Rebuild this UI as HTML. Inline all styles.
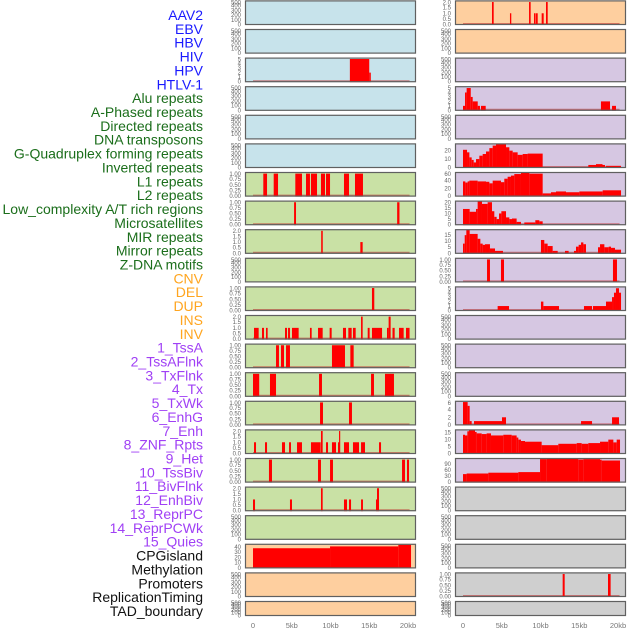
<!DOCTYPE html>
<html><head><meta charset="utf-8">
<style>
html,body{margin:0;padding:0;background:#fff;}
svg{display:block;font-family:"Liberation Sans",sans-serif;}
</style></head>
<body>
<svg id="chart" width="630" height="630" viewBox="0 0 630 630"></svg>
<script>
// ---------- data ----------
const trackLabels = ["AAV2","EBV","HBV","HIV","HPV","HTLV-1","Alu repeats","A-Phased repeats","Directed repeats","DNA transposons","G-Quadruplex forming repeats","Inverted repeats","L1 repeats","L2 repeats","Low_complexity A/T rich regions","Microsatellites","MIR repeats","Mirror repeats","Z-DNA motifs","CNV","DEL","DUP","INS","INV","1_TssA","2_TssAFlnk","3_TxFlnk","4_Tx","5_TxWk","6_EnhG","7_Enh","8_ZNF_Rpts","9_Het","10_TssBiv","11_BivFlnk","12_EnhBiv","13_ReprPC","14_ReprPCWk","15_Quies","CPGisland","Methylation","Promoters","ReplicationTiming","TAD_boundary"];
const labelColors = ["#1a1aff","#1a1aff","#1a1aff","#1a1aff","#1a1aff","#1a1aff","#1b6e1b","#1b6e1b","#1b6e1b","#1b6e1b","#1b6e1b","#1b6e1b","#1b6e1b","#1b6e1b","#1b6e1b","#1b6e1b","#1b6e1b","#1b6e1b","#1b6e1b","#ffa51f","#ffa51f","#ffa51f","#ffa51f","#ffa51f","#a040f5","#a040f5","#a040f5","#a040f5","#a040f5","#a040f5","#a040f5","#a040f5","#a040f5","#a040f5","#a040f5","#a040f5","#a040f5","#a040f5","#a040f5","#111","#111","#111","#111","#111"];
const panelFills = ["#c7e3eb","#c7e3eb","#c7e3eb","#c7e3eb","#c7e3eb","#c7e3eb","#c9e1a5","#c9e1a5","#c9e1a5","#c9e1a5","#c9e1a5","#c9e1a5","#c9e1a5","#c9e1a5","#c9e1a5","#c9e1a5","#c9e1a5","#c9e1a5","#c9e1a5","#fecf9f","#fecf9f","#fecf9f","#fecf9f","#fecf9f","#d6c7e2","#d6c7e2","#d6c7e2","#d6c7e2","#d6c7e2","#d6c7e2","#d6c7e2","#d6c7e2","#d6c7e2","#d6c7e2","#d6c7e2","#d6c7e2","#d6c7e2","#d6c7e2","#d6c7e2","#cfcfcf","#cfcfcf","#cfcfcf","#cfcfcf","#cfcfcf"];
// segments: [startKb, endKb, value]
const hbvSegments = [[12.5,15.0,5],[15.0,15.2,2]];
const aluSegments = [[1.33,1.81,1],[2.67,3.23,1],[5.46,6.32,1],[6.84,7.35,1],[7.48,8.26,1],[8.77,9.29,1],[9.42,9.94,1],[11.74,12.39,1],[13.16,14.19,1]];
const aPhasedSegments = [[5.3,5.55,1],[18.6,18.9,1]];
const directedSegments = [[8.8,9.0,2],[13.85,14.15,1]];
const gquadSegments = [[15.35,15.65,1]];
const invertedSegments = [[0.13,0.73,1],[1.16,1.42,1],[1.68,1.89,1],[4.13,4.39,1],[4.52,4.77,1],[5.03,5.89,1],[7.35,7.57,1],[8.39,8.99,1],[9.89,10.15,1],[11.61,12.0,1],[12.3,12.73,1],[12.9,13.25,1],[13.94,14.15,2],[14.8,15.05,1],[15.35,16.65,1],[17.29,17.5,1],[17.5,17.76,2],[18.0,18.28,1],[18.84,19.44,1],[19.74,20.2,1]];
const l1Segments = [[2.97,3.35,1],[3.61,4.0,1],[4.26,4.77,1],[10.19,11.87,1],[12.56,12.99,1]];
const l2Segments = [[0,0.8,1],[2.19,2.97,1],[8.52,8.9,1],[15.23,15.61,1],[17.03,18.19,1]];
const lowComplexitySegments = [[8.65,9.03,1],[12.39,12.77,1]];
const microsatSegments = [[0.13,0.39,1],[1.55,1.81,1],[3.74,4.13,1],[4.65,4.9,1],[5.68,6.32,1],[7.48,8.73,1],[8.77,8.99,2],[9.42,9.68,1],[10.19,10.71,1],[10.97,11.1,1],[11.1,11.23,2],[11.74,12.39,1],[12.9,13.68,1],[13.94,14.45,1],[16.26,16.52,1]];
const mirSegments = [[2.06,2.45,1],[8.39,8.77,1],[9.94,10.32,1],[19.23,19.61,1],[19.87,20.13,1]];
const mirrorSegments = [[0,0.26,1],[4.77,5.03,1],[8.77,8.99,2],[11.74,12.13,1],[12.39,12.65,1],[13.94,14.19,1],[15.87,16.0,1],[16.0,16.26,2]];
const cnvSegments = [[0,9.94,37.5],[9.94,18.75,41],[18.75,20.39,44]];
const insSegments = [[3.74,3.96,2],[6.06,6.23,1],[8.52,8.73,2],[9.16,9.33,1],[9.38,9.64,1],[10.15,10.41,1],[10.71,10.93,2]];
const tssAFlnkSegments = [[0,0.26,1],[0.26,0.47,4],[0.47,1.0,5],[1.0,1.25,3],[1.25,1.9,2],[1.9,2.19,1],[2.32,2.93,1],[17.8,18.97,2],[19.23,19.74,1]];
const txSegments = [[0,0.52,21],[0.52,0.82,18],[0.82,1.12,12],[1.12,1.38,9],[1.38,1.68,6],[1.68,2.11,10],[2.11,2.54,14],[2.54,2.97,16],[2.97,3.4,19],[3.4,3.83,23],[3.83,4.26,26],[4.26,5.55,28],[5.55,5.98,24],[5.98,6.41,20],[6.41,7.05,18],[7.05,7.7,15],[7.7,8.34,16],[8.34,10.28,16.5],[16.17,17.16,3],[17.16,18.0,4],[18.0,18.32,3],[18.45,20.39,2]];
const txWkSegments = [[0,0.3,38],[0.3,0.6,35],[0.6,0.82,38],[0.82,1.89,40],[1.89,2.97,38],[2.97,3.4,37],[3.4,3.83,33],[3.83,4.9,40],[4.9,5.33,36],[5.33,5.76,45],[5.76,6.19,50],[6.19,6.62,53],[6.62,7.48,57],[7.48,8.56,60],[8.56,10.28,58],[10.28,11.35,7],[11.35,12.0,10],[12.0,13.29,12],[13.29,15.01,10],[15.01,18.02,12],[18.02,20.39,15]];
const enhGSegments = [[0,0.86,14],[0.86,1.68,11.5],[1.68,1.89,14],[1.89,2.45,21],[2.45,3.18,18.5],[3.18,3.74,20],[3.74,4.04,12],[4.04,4.34,7],[4.34,4.65,5],[4.65,4.95,10],[4.95,5.55,12],[5.55,5.98,6.5],[5.98,6.32,5],[6.32,6.92,5.5],[6.92,7.48,2.5],[7.91,9.33,2],[9.33,9.85,4],[9.85,10.28,3]];
const enhSegments = [[0,0.22,8],[0.22,0.43,15],[0.43,0.86,19.5],[0.86,1.89,16],[1.89,2.24,12],[2.24,2.54,8],[2.54,2.84,7],[2.84,3.48,7.5],[3.48,4.13,4],[4.13,5.16,2],[10.06,10.49,11],[10.49,10.92,8],[10.92,11.57,6],[11.57,12.22,2],[13.16,13.63,2],[14.32,14.58,2],[14.58,14.92,5.5],[14.92,15.23,7],[15.23,15.53,9],[15.53,15.87,7.5],[17.42,17.68,5],[17.68,18.24,7.5],[18.24,18.8,5],[18.8,19.1,5.5],[19.1,19.61,4.5],[19.61,20.39,3]];
const znfSegments = [[3.1,3.48,1],[4.9,5.29,1],[19.35,19.87,1]];
const hetSegments = [[4.47,5.94,1],[10.06,10.37,2],[10.37,12.39,1],[15.61,16.65,1],[16.77,18.45,1],[18.45,19.23,2],[19.23,19.48,3],[19.48,19.74,4],[19.74,20.13,5],[20.13,20.39,4]];
const reprPCSegments = [[0,0.6,6],[0.6,0.86,5],[0.86,1.12,1],[1.42,5.03,1],[5.03,5.55,2],[15.23,16.65,1],[19.23,20.13,2]];
const reprPCWkSegments = [[0,0.26,13.5],[0.26,0.56,13],[0.56,0.77,16],[0.77,1.55,17],[1.55,1.76,15.5],[1.76,2.41,14.5],[2.41,3.05,14],[3.05,3.61,14.5],[3.61,5.2,13],[5.2,6.28,13.5],[6.28,6.92,13],[6.92,7.14,11.5],[7.14,7.48,10],[7.48,8.0,9],[8.0,10.15,8.5],[10.15,12.3,6],[12.3,14.67,7],[14.67,15.31,7.5],[15.31,16.17,7],[16.17,17.68,7.5],[17.68,18.75,8.5],[18.75,19.4,10],[19.4,19.83,8],[19.83,20.26,10]];
const quiesSegments = [[0,0.47,40],[0.47,3.27,43],[3.27,7.14,47],[7.14,9.94,50],[9.94,10.8,115],[10.8,14.88,117],[14.88,15.53,113],[15.53,17.68,115],[17.68,17.89,112],[17.89,20.26,108]];
const promoterSegments = [[12.86,13.12,1],[18.71,19.05,1]];
// y-axis tick labels per panel type
const ticksEmpty = ["0","100","200","300","400","500"];
const ticksUnit = ["0.00","0.25","0.50","0.75","1.00"];
const ticksTwo = ["0.0","0.5","1.0","1.5","2.0"];
const ticksFive = ["0","1","2","3","4","5"];
const xTickLabels = ["0","5kb","10kb","15kb","20kb"];
const xTickValues = [0,5,10,15,20];
// per-panel: segments, ymax, ticks
const trackSegments = [null,null,hbvSegments,null,null,null,aluSegments,aPhasedSegments,directedSegments,null,gquadSegments,invertedSegments,l1Segments,l2Segments,lowComplexitySegments,microsatSegments,mirSegments,mirrorSegments,null,cnvSegments,null,null,
  insSegments,null,null,tssAFlnkSegments,null,txSegments,txWkSegments,enhGSegments,enhSegments,znfSegments,hetSegments,null,null,null,reprPCSegments,reprPCWkSegments,quiesSegments,null,null,null,promoterSegments,null];
const trackYmax = [500,500,5.2,500,500,500,1.05,1.05,2.1,500,1.05,2.1,1.05,1.05,1.05,2.1,1.05,2.1,500,45,500,500,
  2.1,500,500,5.3,500,28,61,21,19.5,1.05,5.3,500,500,500,6.2,17,118,500,500,500,1.05,500];
const trackTicks = [ticksEmpty,ticksEmpty,ticksFive,ticksEmpty,ticksEmpty,ticksEmpty,ticksUnit,ticksUnit,ticksTwo,ticksEmpty,ticksUnit,ticksTwo,ticksUnit,ticksUnit,ticksUnit,ticksTwo,ticksUnit,ticksTwo,ticksEmpty,["0","10","20","30","40"],ticksEmpty,ticksEmpty,
  ticksTwo,ticksEmpty,ticksEmpty,ticksFive,ticksEmpty,["0","10","20"],["0","20","40","60"],["0","5","10","15","20"],["0","5","10","15"],ticksUnit,ticksFive,ticksEmpty,ticksEmpty,ticksEmpty,["0","2","4","6"],["0","5","10","15"],["0","30","60","90"],ticksEmpty,ticksEmpty,ticksEmpty,ticksUnit,ticksEmpty];

// ---------- drawing ----------
const NS = "http://www.w3.org/2000/svg";
const svg = document.getElementById("chart");
function mk(tag, attrs, parent){
  const e = document.createElementNS(NS, tag);
  for (const k in attrs) e.setAttribute(k, attrs[k]);
  (parent||svg).appendChild(e);
  return e;
}
const colLeft = [245, 455];
const panelW = 171;
const kbPx = 7.75;
function xScale(col, kb){ return colLeft[col] + 8 + kb*kbPx; }
function rowTop(r){ return 0.4 + r*28.6; }
function rowH(r){ return r===21 ? 15 : 24.6; }

// labels
trackLabels.forEach((t,i)=>{
  const el = mk("text",{x:203,y:15+i*13.86+5,"text-anchor":"end","font-size":"14",fill:labelColors[i]});
  el.textContent = t;
  
  
});

for (let i=0;i<44;i++){
  const col = i<22?0:1, r = i%22;
  const top = rowTop(r), h = rowH(r), bottom = top+h;
  const g = mk("g",{});
  
  
  mk("rect",{x:colLeft[col],y:top,width:panelW,height:h,fill:panelFills[i]},g);
  const ymax = trackYmax[i];
  const yScale = v => bottom - 0.5 - v/ymax*(h-1);
  const ticks = trackTicks[i];
  ticks.forEach(tl=>{
    const v = parseFloat(tl);
    const ty = Math.max(top+2, yScale(v));
    const te = mk("text",{x:colLeft[col]-4,y:ty+2,"text-anchor":"end","font-size":"6",fill:"#666"},g);
    te.textContent = tl;
    
    
  });
  const segs = trackSegments[i];
  if (segs){
    mk("line",{x1:xScale(col,0),x2:xScale(col,20.2),y1:bottom-1.2,y2:bottom-1.2,stroke:"rgba(190,40,40,0.55)","stroke-width":"1.6"},g);
    segs.forEach(s=>{
      const x1 = xScale(col,s[0]), x2 = xScale(col,s[1]);
      const y = yScale(s[2]);
      const b = mk("rect",{x:x1,y:y,width:Math.max(1.2,x2-x1),height:bottom-y,fill:"#ff0000"},g);
      
      
    });
  }
  mk("rect",{x:colLeft[col]+0.5,y:top+0.5,width:panelW-1,height:h-1,fill:"none",stroke:"#606060","stroke-width":"1.2"},g);
}
// x axes
[0,1].forEach(col=>{
  xTickValues.forEach((v,k)=>{
    const t = mk("text",{x:xScale(col,v),y:628,"text-anchor":"middle","font-size":"7.5",fill:"#777"});
    t.textContent = xTickLabels[k];
    
    
  });
});
</script>
</body></html>
